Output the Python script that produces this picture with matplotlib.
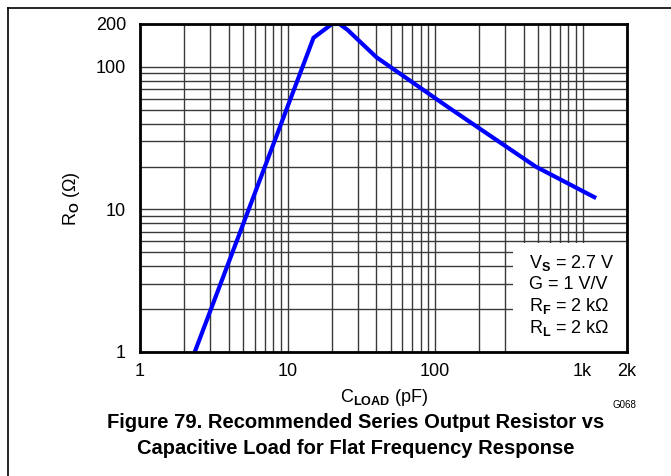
import matplotlib.pyplot as plt
from matplotlib.patches import Rectangle
from matplotlib.lines import Line2D

plt.rcParams["font.family"] = ["Liberation Sans", "DejaVu Sans"]
plt.rcParams["mathtext.fontset"] = "custom"
plt.rcParams["mathtext.rm"] = "Liberation Sans"
plt.rcParams["mathtext.it"] = "Liberation Sans"
plt.rcParams["mathtext.bf"] = "Liberation Sans:bold"

# data
c_load = [2.35, 8.8, 15, 20, 22.5, 25.5, 40, 120, 480, 1200]
r_out = [1, 37, 160, 200, 200, 182, 117, 53, 20, 12.2]

x_ticks = [1, 10, 100, 1000, 2000]
x_labels = ["1", "10", "100", "1k", "2k"]
y_ticks = [1, 10, 100, 200]
y_labels = ["1", "10", "100", "200"]

W, H = 671, 476
fig = plt.figure(figsize=(W / 100, H / 100), dpi=100)

# outer frame (only left/top visible in the reference)
fig.add_artist(Line2D([8 / W, 8 / W], [0, 1 - 8 / H], color="black", lw=1.2))
fig.add_artist(Line2D([8 / W, 1], [1 - 8 / H, 1 - 8 / H], color="black", lw=1.2))

ax = fig.add_axes([140 / W, 1 - 352 / H, 487 / W, 328 / H])
ax.set_xscale("log")
ax.set_yscale("log")
ax.set_xlim(1, 2000)
ax.set_ylim(1, 200)
ax.set_axisbelow(True)

ax.grid(True, which="both", color="#3a3a3a", lw=1.0)
ax.plot(c_load, r_out, color="#0000ff", lw=3, zorder=3, solid_joinstyle="miter")

# white box behind the conditions text
ax.add_patch(Rectangle((0.766, 0), 0.234, 0.332, transform=ax.transAxes,
                       facecolor="white", edgecolor="none", zorder=1))

ax.set_xticks(x_ticks)
ax.set_xticklabels(x_labels)
ax.set_yticks(y_ticks)
ax.set_yticklabels(y_labels)
ax.tick_params(which="both", length=0, labelsize=13)
ax.tick_params(axis="x", pad=8)
ax.tick_params(axis="y", pad=10)
for s in ax.spines.values():
    s.set_linewidth(2)
    s.set_zorder(4)

conds = [r"V$_\mathbf{S}$ = 2.7 V", "G = 1 V/V",
         r"R$_\mathbf{F}$ = 2 k$\Omega$", r"R$_\mathbf{L}$ = 2 k$\Omega$"]
for i, t in enumerate(conds):
    fig.text(529 / W, 1 - (263 + i * 21.5) / H, t, fontsize=13, va="center", ha="left")

fig.text(384 / W, 1 - 397 / H, r"C$_\mathbf{LOAD}$ (pF)", fontsize=13, ha="center", va="center")
fig.text(71 / W, 1 - 199 / H, r"R$_\mathbf{O}$ ($\Omega$)", fontsize=13, ha="center", va="center",
         rotation=90)
fig.text(624 / W, 1 - 405 / H, "G068", fontsize=7, ha="center", va="center")

fig.text(356 / W, 1 - 422 / H, "Figure 79. Recommended Series Output Resistor vs",
         fontsize=14.5, fontweight="bold", ha="center", va="center")
fig.text(356 / W, 1 - 448 / H, "Capacitive Load for Flat Frequency Response",
         fontsize=14.5, fontweight="bold", ha="center", va="center")

plt.savefig("out.png", dpi=100)
